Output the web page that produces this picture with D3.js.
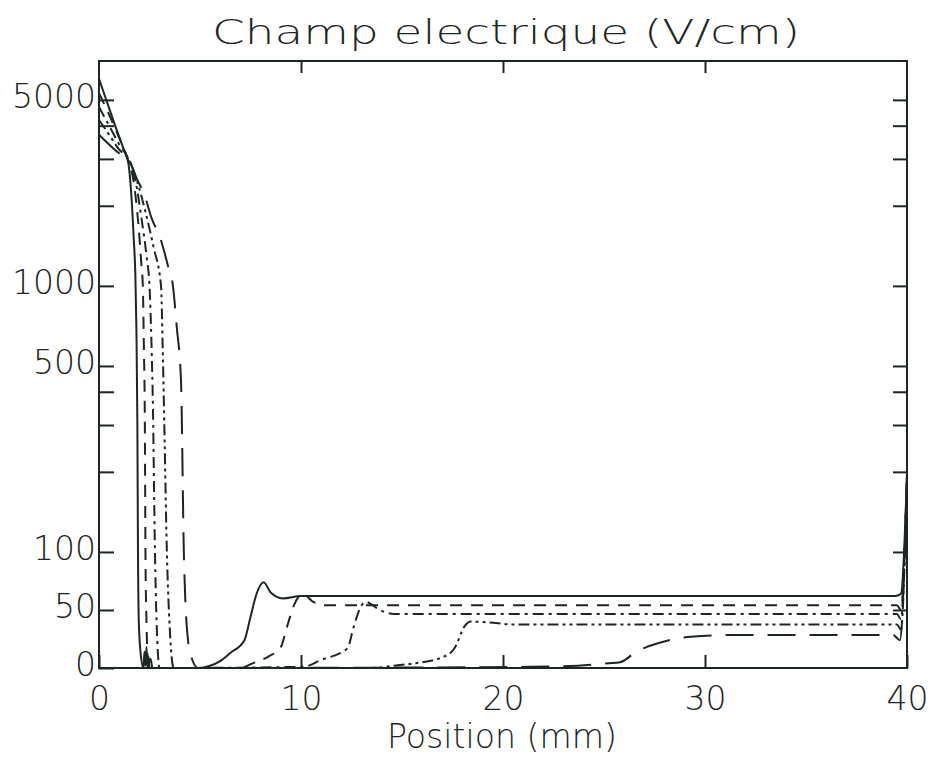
<!DOCTYPE html>
<html>
<head>
<meta charset="utf-8">
<script src="https://cdn.jsdelivr.net/npm/d3@7"></script>
<style>
  body { margin: 0; background: #fff; }
  svg text { font-family: "DejaVu Sans", sans-serif; font-weight: 200; fill: #1d2624; }
</style>
</head>
<body>
<div id="chart"></div>
<script>
// Position (mm) and field (V/cm) for each curve
const xSolid = [0, 0.4, 0.8, 1.2, 1.45, 1.6, 1.72, 1.8, 1.85, 1.9, 1.93, 1.97, 2.05, 2.2, 2.25, 2.3, 2.35, 2.4, 2.45, 2.5, 4.9, 5.5, 6.0, 6.5, 7.2, 7.5, 7.8, 8.15, 8.5, 9.1, 10, 20, 39.4, 39.7, 40];
const eSolid = [6000, 4900, 4000, 3300, 2900, 2200, 1500, 1100, 700, 300, 100, 40, 15, 0, 14, 2, 18, 0, 10, 0, 0, 2, 6, 13, 24, 44, 64, 74, 65, 60, 62, 62, 62, 64, 195];

const xDash = [0, 0.5, 1.0, 1.45, 1.7, 1.95, 2.1, 2.17, 2.22, 2.27, 2.3, 2.35, 2.45, 2.55, 2.65, 7.0, 7.6, 8.4, 9.0, 9.3, 9.65, 10.1, 10.6, 11.3, 39.5, 39.7, 40];
const eDash = [5300, 4400, 3600, 2950, 2500, 1700, 1200, 1000, 600, 300, 100, 40, 0, 8, 0, 0, 4, 10, 18, 35, 54, 64, 57, 54, 54, 50, 195];

const xDashDot = [0, 0.5, 1.0, 1.45, 1.8, 2.1, 2.35, 2.5, 2.6, 2.67, 2.77, 2.85, 3.0, 10.1, 11.0, 12.3, 12.6, 13.0, 13.2, 13.9, 14.6, 39.5, 39.7, 40];
const eDashDot = [4700, 4000, 3400, 3000, 2500, 1800, 1300, 1000, 600, 350, 100, 40, 0, 1, 7, 17, 35, 54, 57, 50, 46.5, 46.5, 42, 195];

const xDashDotDot = [0, 0.5, 1.0, 1.45, 1.9, 2.3, 2.7, 3.07, 3.15, 3.21, 3.36, 3.5, 3.7, 13.5, 14.6, 15.6, 17.1, 17.6, 18.1, 18.4, 19.5, 20.5, 39.5, 39.7, 40];
const eDashDotDot = [4200, 3700, 3250, 3000, 2450, 1900, 1400, 1000, 600, 370, 100, 35, 0, 0, 2, 4, 10, 17, 36, 40, 39, 37.5, 37.5, 33, 195];

const xLongDash = [0, 0.5, 1.0, 1.45, 1.9, 2.25, 2.6, 3.05, 3.4, 3.66, 3.85, 4.06, 4.2, 4.4, 4.6, 4.9, 21.4, 23.7, 25.2, 25.8, 26.6, 27.1, 27.8, 29.3, 31.4, 39.3, 39.65, 40];
const eLongDash = [3700, 3400, 3150, 3000, 2500, 2200, 1800, 1500, 1200, 1000, 700, 440, 100, 25, 8, 0, 1, 2, 4, 5, 14, 18, 22, 27, 28.5, 28.5, 24, 195];

const xTicks = [0, 10, 20, 30, 40];
const yLeftTicks = [50, 100, 200, 300, 400, 500, 1000, 2000, 3000, 4000, 5000];
const yRightTicks = [50, 100, 200, 300, 400, 500, 1000, 2000, 3000, 4000, 5000];
const yLabels = [0, 50, 100, 500, 1000, 5000];

const series = [
    { x: xSolid, e: eSolid, dash: null },
    { x: xDash, e: eDash, dash: '12,9' },
    { x: xDashDot, e: eDashDot, dash: '11,5,3,5' },
    { x: xDashDotDot, e: eDashDotDot, dash: '11,4,3,4,3,4' },
    { x: xLongDash, e: eLongDash, dash: '28,14' }
];

const width = 931, height = 761;
const margin = { top: 61, right: 24, bottom: 93, left: 99 };
const ink = '#1d2624';

const svg = d3.select('#chart').append('svg')
    .attr('width', width)
    .attr('height', height);

// x scale
const x = d3.scaleLinear([0, 40], [margin.left, width - margin.right]);

// y axis: linear from 0 to 100, logarithmic above 100
const yMax = 7000;
const warp = v => v <= 100 ? v / 100 : 1 + Math.log10(v / 100) * (266 / 116);
const yLin = d3.scaleLinear([0, warp(yMax)], [height - margin.bottom, margin.top]);
const y = v => yLin(warp(v));
y.copy = () => y;
y.range = () => yLin.range();
y.domain = () => [0, yMax];

// frame
svg.append('rect')
    .attr('x', margin.left)
    .attr('y', margin.top)
    .attr('width', x(40) - x(0))
    .attr('height', y(0) - y(yMax))
    .style('fill', 'none')
    .style('stroke', ink)
    .style('stroke-width', 2);

// curves
const line = d3.line()
    .x(d => x(d[0]))
    .y(d => y(d[1]))
    .curve(d3.curveMonotoneX);

svg.append('g')
    .selectAll('path')
    .data(series)
    .join('path')
    .attr('d', s => line(s.x.map((v, i) => [v, s.e[i]])))
    .style('fill', 'none')
    .style('stroke', ink)
    .style('stroke-width', 2)
    .style('stroke-dasharray', s => s.dash);

// axes
function styleAxis(g) {
    g.select('.domain').remove();
    g.selectAll('line').style('stroke', ink).style('stroke-width', 2);
    g.selectAll('text')
        .style('font-family', '"DejaVu Sans", sans-serif')
        .style('font-size', '33px')
        .style('fill', ink);
}

svg.append('g')
    .attr('transform', `translate(0, ${y(0)})`)
    .call(d3.axisBottom(x).tickValues(xTicks).tickSize(-13).tickPadding(19).tickFormat(d3.format('d')))
    .call(styleAxis);

svg.append('g')
    .attr('transform', `translate(0, ${y(yMax)})`)
    .call(d3.axisTop(x).tickValues(xTicks.slice(1, -1)).tickSize(-12).tickFormat(''))
    .call(styleAxis);

svg.append('g')
    .attr('transform', `translate(${x(0)}, 0)`)
    .call(d3.axisLeft(y).tickValues([0].concat(yLeftTicks)).tickSize(-15).tickPadding(3)
        .tickFormat(v => yLabels.includes(v) ? v : ''))
    .call(styleAxis)
    .call(g => g.selectAll('text').attr('dy', '0.22em'));

svg.append('g')
    .attr('transform', `translate(${x(40)}, 0)`)
    .call(d3.axisRight(y).tickValues(yRightTicks).tickSize(-14).tickFormat(''))
    .call(styleAxis);

// title and axis label
svg.append('text')
    .attr('x', 506)
    .attr('y', 44)
    .attr('text-anchor', 'middle')
    .attr('textLength', 588)
    .attr('lengthAdjust', 'spacingAndGlyphs')
    .style('font-size', '34px')
    .text('Champ electrique (V/cm)');

svg.append('text')
    .attr('x', 502)
    .attr('y', 748)
    .attr('text-anchor', 'middle')
    .attr('textLength', 230)
    .attr('lengthAdjust', 'spacingAndGlyphs')
    .style('font-size', '33px')
    .text('Position (mm)');
</script>
</body>
</html>
